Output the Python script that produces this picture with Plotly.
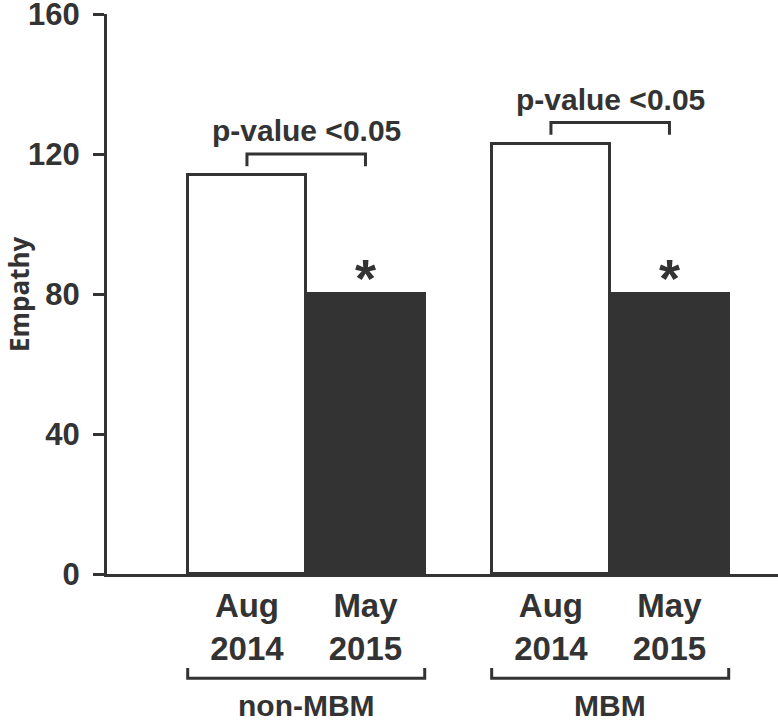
import plotly.graph_objects as go

groups = ["non-MBM", "MBM"]
periods = ["Aug<br>2014", "May<br>2015"]
empathy = [
    [114, 80],   # non-MBM
    [123, 80],   # MBM
]
sig_label = "p-value <0.05"
y_ticks = [0, 40, 80, 120, 160]

INK = "#333333"
NARROW = "Liberation Sans Narrow, Arial Narrow, Liberation Sans, sans-serif"
GAP = 0.565  # space between groups, in bar widths

x_min, x_max = -1.181, 4.481


def bar_x(g, p):
    return g * (2 + GAP) + p


fig = go.Figure()

for p, period in enumerate(periods):
    fig.add_trace(
        go.Bar(
            x=[bar_x(g, p) for g in range(len(groups))],
            y=[vals[p] for vals in empathy],
            width=1,
            marker=dict(
                color="white" if p == 0 else INK,
                line=dict(color=INK, width=3),
            ),
            showlegend=False,
        )
    )

for g, name in enumerate(groups):
    x0, x1 = bar_x(g, 0), bar_x(g, 1)
    top = max(empathy[g])

    # significance bracket above the pair
    fig.add_shape(
        type="path",
        path=f"M {x0},{top + 2.5} L {x0},{top + 6} L {x1},{top + 6} L {x1},{top + 2.5}",
        line=dict(color=INK, width=3),
    )
    fig.add_annotation(
        x=(x0 + x1) / 2, y=top + 6, text=sig_label, showarrow=False,
        yanchor="bottom", yshift=5,
        font=dict(family=NARROW, size=30, color=INK, weight="bold"),
    )

    # asterisk above the second bar
    fig.add_annotation(
        x=x1, y=empathy[g][1], text="*", showarrow=False,
        yanchor="bottom", yshift=-16,
        font=dict(family=NARROW, size=54, color=INK, weight="bold"),
    )

    # group bracket under the tick labels
    fig.add_shape(
        type="path", xref="x", yref="paper",
        path=f"M {x0 - 0.5},-0.168 L {x0 - 0.5},-0.186 L {x1 + 0.5},-0.186 L {x1 + 0.5},-0.168",
        line=dict(color=INK, width=3),
    )
    fig.add_annotation(
        x=(x0 + x1) / 2, y=-0.267, xref="x", yref="paper",
        text=name, showarrow=False, yanchor="bottom",
        font=dict(family=NARROW, size=30, color=INK, weight="bold"),
    )

tick_x = [bar_x(g, p) for g in range(len(groups)) for p in range(len(periods))]
tick_text = [period for g in range(len(groups)) for period in periods]

fig.update_xaxes(
    range=[x_min, x_max],
    tickvals=tick_x,
    ticktext=tick_text,
    ticks="",
    showline=True,
    linecolor=INK,
    linewidth=3,
    showgrid=False,
    zeroline=False,
    automargin=False,
    ticklabelstandoff=0,
    tickfont=dict(family=NARROW, size=33, color=INK, weight="bold"),
)
fig.update_yaxes(
    range=[0, 160],
    tickvals=y_ticks,
    ticks="outside",
    ticklen=11,
    tickwidth=3,
    tickcolor=INK,
    showline=True,
    linecolor=INK,
    linewidth=3,
    showgrid=False,
    zeroline=False,
    automargin=False,
    ticklabeloverflow="allow",
    ticklabelstandoff=7,
    tickfont=dict(family=NARROW, size=31, color=INK, weight="bold"),
)

fig.add_annotation(
    x=-0.131, y=0.5, xref="paper", yref="paper", xanchor="center",
    text="Empathy", textangle=-90, showarrow=False,
    font=dict(family="Open Sans, sans-serif", size=26, color=INK, weight="bold"),
)

fig.update_layout(
    width=778,
    height=724,
    margin=dict(l=107, r=0, t=14, b=150),
    paper_bgcolor="white",
    plot_bgcolor="white",
    bargap=0,
)

# drop the browser's default body margin so the figure fills the window
fig.write_html(
    "out.html",
    config={"displayModeBar": False},
    post_script="document.body.style.margin = '0';",
)
